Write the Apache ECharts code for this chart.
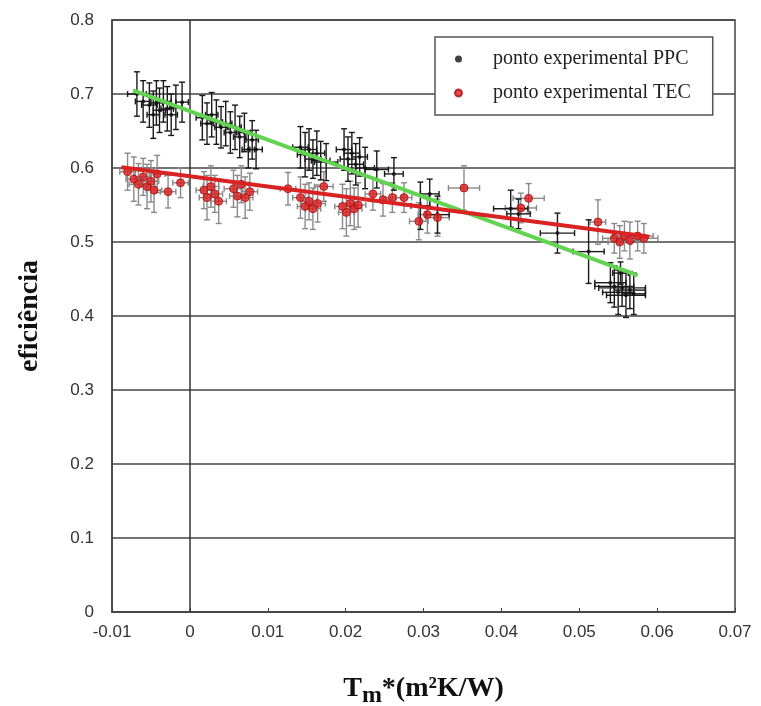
<!DOCTYPE html>
<html>
    <head>
        <meta http-equiv="Content-Type" content="text/html; charset=UTF-8" />
        <title>eficiencia</title>
        <script type="text/javascript" src="https://cdn.jsdelivr.net/npm/echarts@6/dist/echarts.min.js"></script>
    </head>
    <body style="margin:0; width:761px; height:706px; background:#fff;">
        <div id="main" style="width:761px; height:706px;"></div>
    </body>
    <script>
        // PPC points (black): x, y, x error, y error
        var ppcX = [-0.0068, -0.0060, -0.0052, -0.0047, -0.0043, -0.0039, -0.0034, -0.0029, -0.0024, -0.0018, -0.0010,
            0.0016, 0.0022, 0.0028, 0.0034, 0.0040, 0.0046, 0.0052, 0.0058, 0.0064, 0.0070, 0.0075, 0.0080, 0.0085,
            0.0142, 0.0148, 0.0153, 0.0158, 0.0163, 0.0168, 0.0175,
            0.0198, 0.0203, 0.0208, 0.0213, 0.0218, 0.0225, 0.0240, 0.0262,
            0.0296, 0.0308, 0.0318, 0.0412, 0.0422, 0.0472, 0.0512, 0.0540,
            0.0545, 0.0550, 0.0555, 0.0560, 0.0565, 0.0570, 0.0553];
        var ppcY = [0.700, 0.690, 0.685, 0.672, 0.688, 0.678, 0.690, 0.680, 0.672, 0.682, 0.689,
            0.668, 0.660, 0.672, 0.662, 0.655, 0.660, 0.648, 0.655, 0.642, 0.648, 0.625, 0.638, 0.625,
            0.628, 0.618, 0.625, 0.612, 0.620, 0.610, 0.608,
            0.625, 0.612, 0.620, 0.605, 0.615, 0.600, 0.598, 0.592,
            0.549, 0.565, 0.537, 0.545, 0.538, 0.512, 0.487, 0.445,
            0.440, 0.432, 0.438, 0.428, 0.435, 0.430, 0.458];
        var ppcXErr = [0.0012, 0.0010, 0.0010, 0.0008, 0.0008, 0.0008, 0.0010, 0.0008, 0.0008, 0.0008, 0.0008,
            0.0008, 0.0008, 0.0008, 0.0008, 0.0008, 0.0008, 0.0008, 0.0008, 0.0008, 0.0008, 0.0008, 0.0008, 0.0008,
            0.0010, 0.0010, 0.0010, 0.0010, 0.0010, 0.0012, 0.0015,
            0.0010, 0.0010, 0.0010, 0.0010, 0.0010, 0.0012, 0.0015, 0.0012,
            0.0012, 0.0012, 0.0015, 0.0022, 0.0015, 0.0022, 0.0020, 0.0020,
            0.0025, 0.0020, 0.0030, 0.0025, 0.0020, 0.0015, 0.0010];
        var ppcYErr = [0.030, 0.028, 0.030, 0.032, 0.030, 0.030, 0.028, 0.030, 0.028, 0.030, 0.027,
            0.030, 0.028, 0.030, 0.030, 0.028, 0.030, 0.028, 0.030, 0.028, 0.026, 0.025, 0.026, 0.026,
            0.028, 0.030, 0.028, 0.026, 0.030, 0.026, 0.025,
            0.028, 0.030, 0.028, 0.028, 0.026, 0.028, 0.025, 0.022,
            0.032, 0.020, 0.025, 0.025, 0.020, 0.027, 0.043, 0.027,
            0.028, 0.030, 0.025, 0.030, 0.025, 0.028, 0.015];

        // TEC points (red)
        var tecX = [-0.0080, -0.0072, -0.0066, -0.0060, -0.0055, -0.0050, -0.0046, -0.0042, -0.0028, -0.0012,
            0.0018, 0.0022, 0.0027, 0.0032, 0.0037, 0.0056, 0.0061, 0.0066, 0.0071, 0.0077,
            0.0126, 0.0142, 0.0148, 0.0153, 0.0158, 0.0164, 0.0172,
            0.0196, 0.0201, 0.0206, 0.0211, 0.0216, 0.0235, 0.0248, 0.0260, 0.0275,
            0.0294, 0.0305, 0.0318, 0.0352, 0.0425, 0.0435, 0.0524,
            0.0545, 0.0552, 0.0558, 0.0565, 0.0575, 0.0583];
        var tecY = [0.595, 0.585, 0.578, 0.588, 0.575, 0.582, 0.570, 0.592, 0.568, 0.580,
            0.570, 0.560, 0.575, 0.565, 0.555, 0.572, 0.562, 0.578, 0.560, 0.568,
            0.572, 0.560, 0.548, 0.555, 0.545, 0.552, 0.575,
            0.548, 0.540, 0.552, 0.545, 0.550, 0.565, 0.557, 0.560, 0.560,
            0.528, 0.537, 0.533, 0.573, 0.546, 0.559, 0.527,
            0.505, 0.500, 0.508, 0.502, 0.508, 0.505];
        var tecXErr = [0.0010, 0.0010, 0.0012, 0.0010, 0.0010, 0.0010, 0.0010, 0.0010, 0.0010, 0.0010,
            0.0010, 0.0010, 0.0010, 0.0010, 0.0010, 0.0012, 0.0010, 0.0010, 0.0010, 0.0010,
            0.0010, 0.0010, 0.0010, 0.0010, 0.0010, 0.0010, 0.0012,
            0.0010, 0.0010, 0.0010, 0.0010, 0.0010, 0.0010, 0.0012, 0.0012, 0.0010,
            0.0012, 0.0012, 0.0015, 0.0020, 0.0020, 0.0020, 0.0010,
            0.0015, 0.0015, 0.0015, 0.0015, 0.0020, 0.0018];
        var tecYErr = [0.025, 0.030, 0.028, 0.025, 0.030, 0.028, 0.030, 0.025, 0.022, 0.020,
            0.025, 0.030, 0.028, 0.025, 0.030, 0.025, 0.028, 0.025, 0.028, 0.025,
            0.022, 0.028, 0.030, 0.025, 0.028, 0.025, 0.020,
            0.030, 0.032, 0.030, 0.028, 0.030, 0.022, 0.022, 0.020, 0.020,
            0.025, 0.025, 0.025, 0.030, 0.020, 0.020, 0.030,
            0.020, 0.022, 0.020, 0.025, 0.020, 0.020];

        // trend lines
        var ppcFitX = [-0.0073, 0.0575];
        var ppcFitY = [0.705, 0.455];
        var tecFitX = [-0.0088, 0.059];
        var tecFitY = [0.601, 0.507];

        var xTicks = [-0.01, 0, 0.01, 0.02, 0.03, 0.04, 0.05, 0.06, 0.07];
        var yTicks = [0, 0.1, 0.2, 0.3, 0.4, 0.5, 0.6, 0.7, 0.8];

        function zip4(a, b, c, d) {
            var out = [];
            for (var i = 0; i < a.length; i++) out.push([a[i], b[i], c[i], d[i]]);
            return out;
        }
        function zip2(a, b) {
            var out = [];
            for (var i = 0; i < a.length; i++) out.push([a[i], b[i]]);
            return out;
        }

        function errorBars(color) {
            return function (params, api) {
                var x = api.value(0), y = api.value(1), ex = api.value(2), ey = api.value(3);
                var top = api.coord([x, y + ey]), bot = api.coord([x, y - ey]);
                var lft = api.coord([x - ex, y]), rgt = api.coord([x + ex, y]);
                var cap = 3;
                var st = { stroke: color, lineWidth: 1.4 };
                return {
                    type: 'group',
                    children: [
                        { type: 'line', shape: { x1: top[0], y1: top[1], x2: bot[0], y2: bot[1] }, style: st },
                        { type: 'line', shape: { x1: top[0] - cap, y1: top[1], x2: top[0] + cap, y2: top[1] }, style: st },
                        { type: 'line', shape: { x1: bot[0] - cap, y1: bot[1], x2: bot[0] + cap, y2: bot[1] }, style: st },
                        { type: 'line', shape: { x1: lft[0], y1: lft[1], x2: rgt[0], y2: rgt[1] }, style: st },
                        { type: 'line', shape: { x1: lft[0], y1: lft[1] - cap, x2: lft[0], y2: lft[1] + cap }, style: st },
                        { type: 'line', shape: { x1: rgt[0], y1: rgt[1] - cap, x2: rgt[0], y2: rgt[1] + cap }, style: st }
                    ]
                };
            };
        }

        function fmt(v) {
            return String(Math.round(v * 100) / 100);
        }

        var myChart = echarts.init(document.getElementById('main'));

        var option = {
            animation: false,
            backgroundColor: '#fff',
            grid: {
                left: 112, right: 26, top: 20, bottom: 94,
                outerBoundsMode: 'none',
                show: true, borderColor: '#444', borderWidth: 1.5
            },
            legend: {
                left: 435, top: 37,
                orient: 'vertical',
                backgroundColor: '#fff',
                borderColor: '#555', borderWidth: 1.5,
                padding: [12, 22, 12, 19],
                itemGap: 14,
                itemWidth: 7, itemHeight: 7,
                textStyle: { fontFamily: 'Liberation Serif', fontSize: 20, color: '#222', padding: [0, 0, 0, 26] },
                data: [
                    { name: 'ponto experimental PPC', icon: 'circle' },
                    { name: 'ponto experimental TEC', icon: 'circle' }
                ]
            },
            xAxis: {
                type: 'value',
                min: xTicks[0], max: xTicks[xTicks.length - 1], interval: 0.01,
                axisLine: { show: true, lineStyle: { color: '#444', width: 1.5 } },
                axisTick: { show: true, inside: true, length: 4, lineStyle: { color: '#444' } },
                splitLine: { show: false },
                axisLabel: { formatter: fmt, fontFamily: 'Liberation Sans', fontSize: 17, color: '#333', margin: 12 },
                name: '{t|T}{s|m}{t|*(m²K/W)}',
                nameLocation: 'middle',
                nameGap: 58,
                nameTextStyle: {
                    rich: {
                        t: { fontFamily: 'Liberation Serif', fontWeight: 'bold', fontSize: 28, color: '#111' },
                        s: { fontFamily: 'Liberation Serif', fontWeight: 'bold', fontSize: 24, color: '#111', padding: [14, 0, 0, 0] }
                    }
                }
            },
            yAxis: {
                type: 'value',
                min: yTicks[0], max: yTicks[yTicks.length - 1], interval: 0.1,
                axisLine: { show: true, onZero: false, lineStyle: { color: '#444', width: 1.5 } },
                axisTick: { show: false },
                splitLine: { show: true, lineStyle: { color: '#444', width: 1.5 } },
                axisLabel: { formatter: fmt, fontFamily: 'Liberation Sans', fontSize: 17, color: '#333', margin: 18 },
                name: 'eficiência',
                nameLocation: 'middle',
                nameGap: 68,
                nameTextStyle: { fontFamily: 'Liberation Serif', fontWeight: 'bold', fontSize: 28, color: '#111' }
            },
            series: [
                {
                    type: 'custom',
                    name: 'tecErr',
                    renderItem: errorBars('#8a8a8a'),
                    data: zip4(tecX, tecY, tecXErr, tecYErr),
                    z: 2
                },
                {
                    type: 'custom',
                    name: 'ppcErr',
                    renderItem: errorBars('#1a1a1a'),
                    data: zip4(ppcX, ppcY, ppcXErr, ppcYErr),
                    z: 3
                },
                {
                    type: 'scatter',
                    name: 'ponto experimental PPC',
                    symbol: 'circle',
                    symbolSize: 4,
                    itemStyle: { color: '#111' },
                    data: zip2(ppcX, ppcY),
                    z: 4
                },
                {
                    type: 'scatter',
                    name: 'ponto experimental TEC',
                    symbol: 'circle',
                    symbolSize: 8,
                    itemStyle: { color: '#e01e1e', borderColor: '#a81010', borderWidth: 1 },
                    data: zip2(tecX, tecY),
                    z: 4
                },
                {
                    type: 'line',
                    name: 'PPC ajuste',
                    data: zip2(ppcFitX, ppcFitY),
                    showSymbol: false,
                    lineStyle: { color: '#62d452', width: 4 },
                    z: 5,
                    markLine: {
                        silent: true,
                        symbol: 'none',
                        label: { show: false },
                        lineStyle: { color: '#333', width: 1.5, type: 'solid' },
                        data: [{ xAxis: 0 }]
                    }
                },
                {
                    type: 'line',
                    name: 'TEC ajuste',
                    data: zip2(tecFitX, tecFitY),
                    showSymbol: false,
                    lineStyle: { color: '#d92222', width: 4 },
                    z: 5
                }
            ]
        };

        myChart.setOption(option);
    </script>
</html>
